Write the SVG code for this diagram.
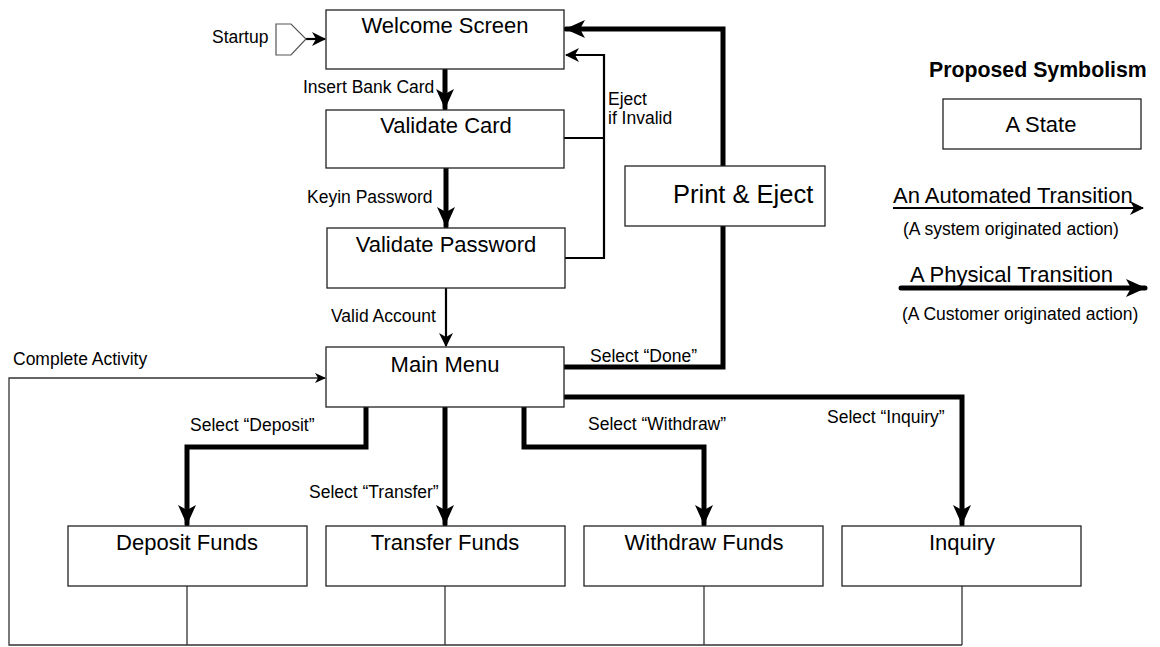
<svg xmlns="http://www.w3.org/2000/svg" width="1160" height="647" viewBox="0 0 1160 647">
<defs>
<style>
.box{fill:#fff;stroke:#222;stroke-width:1.3}
.t{font-family:"Liberation Sans",Arial,sans-serif;fill:#000}
.n{font-size:22px;text-anchor:middle}
.s{font-size:17.5px}
.thick{fill:none;stroke:#000;stroke-width:5;stroke-linecap:round;stroke-linejoin:miter}
.med{fill:none;stroke:#000;stroke-width:2.2}
.thin{fill:none;stroke:#333;stroke-width:1.3}
</style>
<marker id="ah" markerUnits="userSpaceOnUse" viewBox="0 0 20 18" refX="19" refY="9" markerWidth="20" markerHeight="18" orient="auto">
<path d="M0,0 L20,9 L0,18 L5,9 Z" fill="#000"/>
</marker>
<marker id="am" markerUnits="userSpaceOnUse" viewBox="0 0 14 14" refX="13" refY="7" markerWidth="14" markerHeight="14" orient="auto">
<path d="M0,0 L14,7 L0,14 L4,7 Z" fill="#000"/>
</marker>
<marker id="as" markerUnits="userSpaceOnUse" viewBox="0 0 11 10" refX="10" refY="5" markerWidth="11" markerHeight="10" orient="auto">
<path d="M0,0 L11,5 L0,10 L3,5 Z" fill="#000"/>
</marker>
</defs>
<rect width="1160" height="647" fill="#fff"/>

<g id="connectors">
<path class="thick" d="M445,69 V108" marker-end="url(#ah)"/>
<path class="thick" d="M446,168 V226" marker-end="url(#ah)"/>
<path class="med" d="M446,288 V346" marker-end="url(#am)"/>
<path class="med" d="M306,39 H325" marker-end="url(#am)"/>
<path class="med" d="M564,138 H604 M564,258 H604 V55 H566" marker-end="url(#am)"/>
<path class="thick" d="M564,367 H723 V29 H566" marker-end="url(#ah)"/>
<path class="thick" d="M366,407 V447 H187 V524" marker-end="url(#ah)"/>
<path class="thick" d="M445,407 V524" marker-end="url(#ah)"/>
<path class="thick" d="M524,407 V447 H704 V524" marker-end="url(#ah)"/>
<path class="thick" d="M564,397 H962 V524" marker-end="url(#ah)"/>
<path class="thin" d="M187,586 V645 M445,586 V645 M704,586 V645 M962,586 V645"/>
<path class="thin" d="M962,645 H9 V378 H325" marker-end="url(#as)"/>
</g>

<g id="labels">
<text class="t s" x="212" y="43">Startup</text>
<text class="t s" x="303" y="93">Insert Bank Card</text>
<text class="t s" x="608" y="105">Eject</text>
<text class="t s" x="608" y="124">if Invalid</text>
<text class="t s" x="307" y="203">Keyin Password</text>
<text class="t s" x="331" y="322">Valid Account</text>
<text class="t s" x="13" y="365">Complete Activity</text>
<text class="t s" x="590" y="362">Select “Done”</text>
<text class="t s" x="190" y="431">Select “Deposit”</text>
<text class="t s" x="588" y="430">Select “Withdraw”</text>
<text class="t s" x="827" y="423">Select “Inquiry”</text>
<text class="t s" x="309" y="498">Select “Transfer”</text>
</g>

<g id="startup">
<polygon points="276,24 291,24 306,39 291,55 276,55" fill="#fff" stroke="#555" stroke-width="1.2"/>
</g>
<g id="welcome">
<rect class="box" x="326" y="10" width="238" height="59"/>
<text class="t n" x="445" y="33">Welcome Screen</text>
</g>
<g id="validate-card">
<rect class="box" x="326" y="110" width="238" height="58"/>
<text class="t n" x="446" y="133">Validate Card</text>
</g>
<g id="validate-password">
<rect class="box" x="327" y="228" width="238" height="60"/>
<text class="t n" x="446" y="252">Validate Password</text>
</g>
<g id="main-menu">
<rect class="box" x="326" y="347" width="238" height="60"/>
<text class="t n" x="445" y="372">Main Menu</text>
</g>
<g id="print-eject">
<rect class="box" x="625" y="166" width="200" height="60"/>
<text class="t" x="673" y="203" font-size="25.5">Print &amp; Eject</text>
</g>
<g id="deposit">
<rect class="box" x="68" y="526" width="239" height="60"/>
<text class="t n" x="187" y="550">Deposit Funds</text>
</g>
<g id="transfer">
<rect class="box" x="326" y="526" width="239" height="60"/>
<text class="t n" x="445" y="550">Transfer Funds</text>
</g>
<g id="withdraw">
<rect class="box" x="584" y="526" width="239" height="60"/>
<text class="t n" x="704" y="550">Withdraw Funds</text>
</g>
<g id="inquiry">
<rect class="box" x="842" y="526" width="239" height="60"/>
<text class="t n" x="962" y="550">Inquiry</text>
</g>

<g id="legend">
<text class="t" x="929" y="77" font-size="21.3" font-weight="bold">Proposed Symbolism</text>
<rect class="box" x="943" y="99" width="198" height="50"/>
<text class="t n" x="1041" y="132">A State</text>
<text class="t" x="893" y="203" font-size="22">An Automated Transition</text>
<path class="med" d="M893,208 H1143" marker-end="url(#am)"/>
<text class="t s" x="903" y="235">(A system originated action)</text>
<text class="t" x="910" y="282" font-size="22">A Physical Transition</text>
<path class="thick" d="M901,288 H1145" marker-end="url(#ah)"/>
<text class="t s" x="902" y="320">(A Customer originated action)</text>
</g>
</svg>
